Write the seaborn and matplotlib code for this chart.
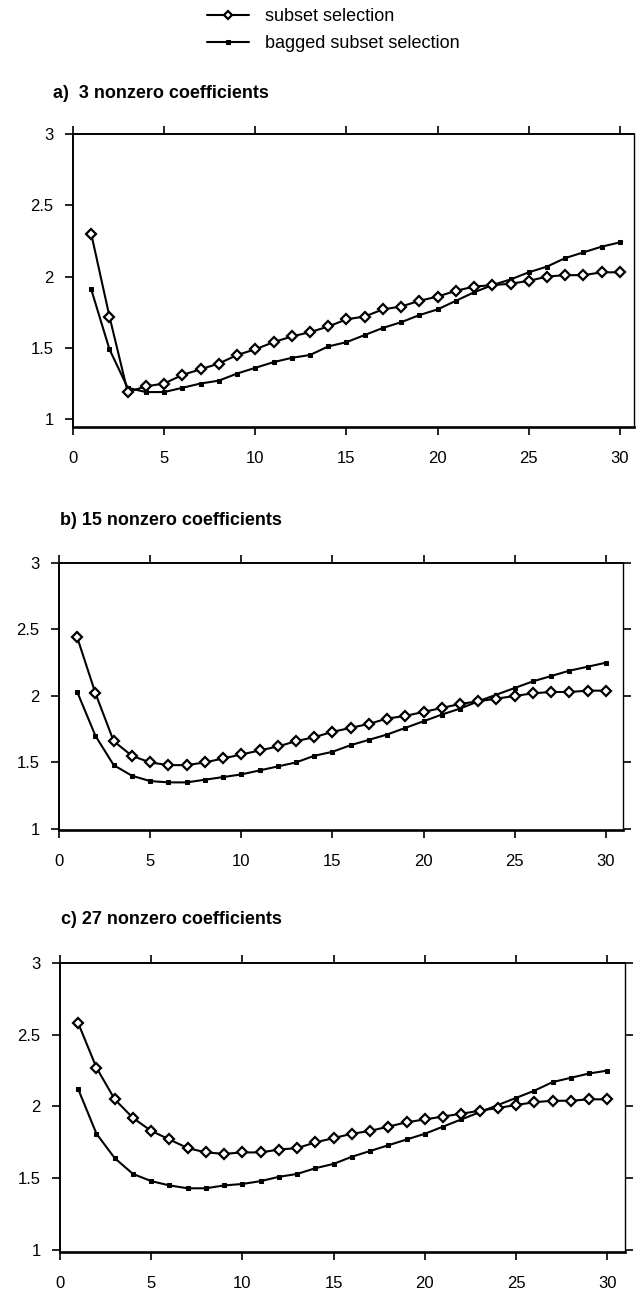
import matplotlib
matplotlib.use("Agg")
import matplotlib.pyplot as plt
import seaborn as sns
import numpy as np
import pandas as pd

# ---- data ----
k = list(range(1, 31))

a_subset = [2.30, 1.72, 1.19, 1.23, 1.25, 1.31, 1.35, 1.39, 1.45, 1.49,
            1.54, 1.58, 1.61, 1.65, 1.70, 1.72, 1.77, 1.79, 1.83, 1.86,
            1.90, 1.93, 1.94, 1.95, 1.97, 2.00, 2.01, 2.01, 2.03, 2.03]
a_bagged = [1.91, 1.49, 1.22, 1.19, 1.19, 1.22, 1.25, 1.27, 1.32, 1.36,
            1.40, 1.43, 1.45, 1.51, 1.54, 1.59, 1.64, 1.68, 1.73, 1.77,
            1.83, 1.89, 1.94, 1.98, 2.03, 2.07, 2.13, 2.17, 2.21, 2.24]

b_subset = [2.44, 2.02, 1.66, 1.55, 1.50, 1.48, 1.48, 1.50, 1.53, 1.56,
            1.59, 1.62, 1.66, 1.69, 1.73, 1.76, 1.79, 1.83, 1.85, 1.88,
            1.91, 1.94, 1.96, 1.98, 2.00, 2.02, 2.03, 2.03, 2.04, 2.04]
b_bagged = [2.03, 1.70, 1.48, 1.40, 1.36, 1.35, 1.35, 1.37, 1.39, 1.41,
            1.44, 1.47, 1.50, 1.55, 1.58, 1.63, 1.67, 1.71, 1.76, 1.81,
            1.86, 1.905, 1.96, 2.01, 2.06, 2.11, 2.15, 2.19, 2.22, 2.25]

c_subset = [2.58, 2.27, 2.05, 1.92, 1.83, 1.77, 1.71, 1.68, 1.67, 1.68,
            1.68, 1.70, 1.71, 1.75, 1.78, 1.81, 1.83, 1.86, 1.89, 1.91,
            1.93, 1.95, 1.97, 1.99, 2.01, 2.03, 2.04, 2.04, 2.05, 2.05]
c_bagged = [2.12, 1.81, 1.64, 1.53, 1.48, 1.45, 1.43, 1.43, 1.45, 1.46,
            1.48, 1.51, 1.53, 1.57, 1.60, 1.65, 1.69, 1.73, 1.77, 1.81,
            1.86, 1.91, 1.96, 2.01, 2.06, 2.11, 2.17, 2.20, 2.23, 2.25]

titles = ["a)  3 nonzero coefficients",
          "b) 15 nonzero coefficients",
          "c) 27 nonzero coefficients"]
legend_labels = ["subset selection", "bagged subset selection"]
x_ticks = [0, 5, 10, 15, 20, 25, 30]
y_ticks = [1, 1.5, 2, 2.5, 3]
y_tick_labels = ["1", "1.5", "2", "2.5", "3"]

# ---- style ----
sns.set_style("ticks")
plt.rcParams["font.family"] = ["Liberation Sans", "DejaVu Sans"]
plt.rcParams["text.color"] = "black"
plt.rcParams["axes.labelcolor"] = "black"
plt.rcParams["xtick.color"] = "black"
plt.rcParams["ytick.color"] = "black"
plt.rcParams["axes.edgecolor"] = "black"

W, H = 637, 1299
fig = plt.figure(figsize=(W / 100, H / 100), dpi=100)

panels = [
    dict(l=73, r=634, t=134, b=427, ymin=0.945, xmax=30.77, rticks=False, tx=53, ty=93,
         sub=a_subset, bag=a_bagged, title=titles[0], ms=5.3),
    dict(l=59, r=623, t=563, b=830, ymin=0.992, xmax=30.94, rticks=True, tx=60, ty=521,
         sub=b_subset, bag=b_bagged, title=titles[1], ms=4.8),
    dict(l=60, r=625, t=963, b=1252, ymin=0.986, xmax=30.97, rticks=True, tx=61, ty=920,
         sub=c_subset, bag=c_bagged, title=titles[2], ms=4.8),
]

handles = None
for p in panels:
    ax = fig.add_axes([p["l"] / W, (H - p["b"]) / H, (p["r"] - p["l"]) / W, (p["b"] - p["t"]) / H])
    df = pd.DataFrame({"k": k, "subset": p["sub"], "bagged": p["bag"]})
    sns.lineplot(data=df, x="k", y="bagged", ax=ax, color="black", lw=1.5,
                 marker="s", markersize=3.0, markerfacecolor="black",
                 markeredgecolor="black", label=legend_labels[1], legend=False)
    sns.lineplot(data=df, x="k", y="subset", ax=ax, color="black", lw=1.5,
                 marker="D", markersize=p["ms"], markerfacecolor="white",
                 markeredgecolor="black", markeredgewidth=1.6,
                 label=legend_labels[0], legend=False)
    ax.set_xlim(0, p["xmax"])
    ax.set_ylim(p["ymin"], 3)
    ax.set_xlabel("")
    ax.set_ylabel("")
    ax.set_xticks(x_ticks)
    ax.set_yticks(y_ticks)
    ax.set_yticklabels(y_tick_labels)
    ax.tick_params(axis="both", direction="out", length=6, width=1.2,
                   labelsize=12, colors="black", labelcolor="black")
    ax.tick_params(axis="x", top=True, labeltop=False, pad=11)
    ax.tick_params(axis="y", right=p["rticks"], labelright=False, pad=8)
    for side in ["left", "top"]:
        ax.spines[side].set_linewidth(1.4)
    ax.spines["bottom"].set_linewidth(1.9)
    ax.spines["right"].set_linewidth(1.0)
    for s in ax.spines.values():
        s.set_color("black")
    ax.set_facecolor("white")
    fig.text(p["tx"] / W, 1 - p["ty"] / H, p["title"], fontsize=13, fontweight="bold",
             ha="left", va="center", color="black")
    if handles is None:
        h, lab = ax.get_legend_handles_labels()
        handles = dict(zip(lab, h))

leg_handles = [handles[legend_labels[0]], handles[legend_labels[1]]]
leg = fig.legend(leg_handles, legend_labels, loc="upper left",
                 bbox_to_anchor=(200 / W, 1 - 1 / H), frameon=False,
                 fontsize=13, handlelength=2.3, handletextpad=0.9,
                 labelspacing=0.55, markerscale=0.8, borderaxespad=0)
for t in leg.get_texts():
    t.set_color("black")

fig.savefig("out.png", dpi=100, facecolor="white")
